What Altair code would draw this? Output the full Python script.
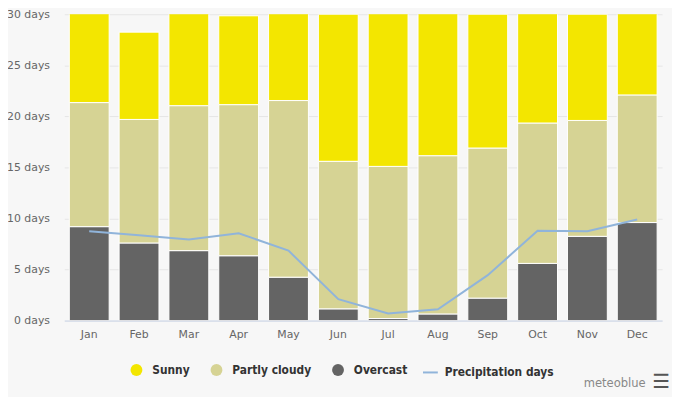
import altair as alt
import pandas as pd

months = ["Jan", "Feb", "Mar", "Apr", "May", "Jun", "Jul", "Aug", "Sep", "Oct", "Nov", "Dec"]
sunny = [9.65, 8.55, 9.95, 8.7, 9.45, 14.4, 15.9, 14.85, 13.1, 11.65, 10.4, 8.9]
partly = [12.15, 12.1, 14.2, 14.8, 17.3, 14.45, 14.9, 15.5, 14.7, 13.75, 11.35, 12.5]
overcast = [9.2, 7.6, 6.85, 6.35, 4.25, 1.15, 0.2, 0.65, 2.2, 5.6, 8.25, 9.6]
precip = [8.75, 8.35, 7.95, 8.55, 6.85, 2.1, 0.7, 1.1, 4.45, 8.8, 8.75, 9.9]

cats = ["Sunny", "Partly cloudy", "Overcast"]
colors = ["#F3E600", "#D6D394", "#646464"]

rows = []
for i, m in enumerate(months):
    for ordv, (c, vals) in enumerate([("Overcast", overcast), ("Partly cloudy", partly), ("Sunny", sunny)]):
        rows.append({"month": m, "cat": c, "value": vals[i], "ord": ordv})
bars_df = pd.DataFrame(rows)
line_df = pd.DataFrame({"month": months, "precip": precip, "series": ["Precipitation days"] * 12})

LEG_FONT = "DejaVu Sans Condensed, Liberation Sans, sans-serif"

x_enc = alt.X("month:N", sort=months,
              scale=alt.Scale(paddingInner=0.2, paddingOuter=0.1),
              axis=alt.Axis(title=None, labelAngle=0, ticks=False, domainColor="#ccd6eb",
                            labelPadding=8, labelFontSize=11, labelColor="#666666",
                            labelFont="DejaVu Sans", grid=False))
y_scale = alt.Scale(domain=[0, 30], nice=False)

bars = alt.Chart(bars_df).mark_bar(clip=True, stroke="white", strokeWidth=1).encode(
    x=x_enc,
    y=alt.Y("value:Q", stack="zero", scale=y_scale,
            axis=alt.Axis(title=None, values=[0, 5, 10, 15, 20, 25, 30],
                          labelExpr="datum.value + ' days'", domain=False, ticks=False,
                          gridColor="#e6e6e6", labelPadding=15, labelFontSize=11,
                          labelColor="#666666", labelFont="DejaVu Sans")),
    color=alt.Color("cat:N", scale=alt.Scale(domain=cats, range=colors),
                    legend=alt.Legend(title=None, orient="none", legendX=67, legendY=354,
                                      direction="horizontal", symbolType="circle",
                                      symbolSize=144, symbolStrokeWidth=0,
                                      labelFont=LEG_FONT, labelFontWeight="bold",
                                      labelFontSize=12, labelColor="#333333",
                                      labelOffset=10, columnPadding=21, padding=0)),
    order=alt.Order("ord:Q", sort="ascending"),
)

line = alt.Chart(line_df).mark_line(strokeWidth=2).encode(
    x=alt.X("month:N", sort=months),
    y=alt.Y("precip:Q", scale=y_scale),
    stroke=alt.Stroke("series:N", scale=alt.Scale(range=["#90B4DA"]),
                      legend=alt.Legend(title=None, orient="none", legendX=362, legendY=354,
                                        symbolType="stroke", symbolSize=225,
                                        symbolStrokeWidth=2,
                                        labelFont=LEG_FONT, labelFontWeight="bold",
                                        labelFontSize=12, labelColor="#333333",
                                        labelOffset=6, padding=0)),
)

brand = alt.Chart(pd.DataFrame({"t": ["meteoblue"]})).mark_text(
    font=LEG_FONT, fontSize=13, color="#888888", align="center", baseline="middle"
).encode(text="t:N", x=alt.value(557), y=alt.value(373))

menu = alt.Chart(pd.DataFrame({"t": ["☰"]})).mark_text(
    font="DejaVu Sans", fontSize=20, fontWeight="bold", color="#555555", align="center", baseline="middle"
).encode(text="t:N", x=alt.value(604), y=alt.value(372))

chart = alt.layer(bars, line, brand, menu).properties(
    width=605, height=310,
    padding={"left": 57, "top": 4, "right": 10, "bottom": 75},
    autosize=alt.AutoSizeParams(type="none"),
).configure(background="#f7f7f7").configure_view(stroke=None)

chart.save("out.html", embed_options={"renderer": "svg", "actions": False})
